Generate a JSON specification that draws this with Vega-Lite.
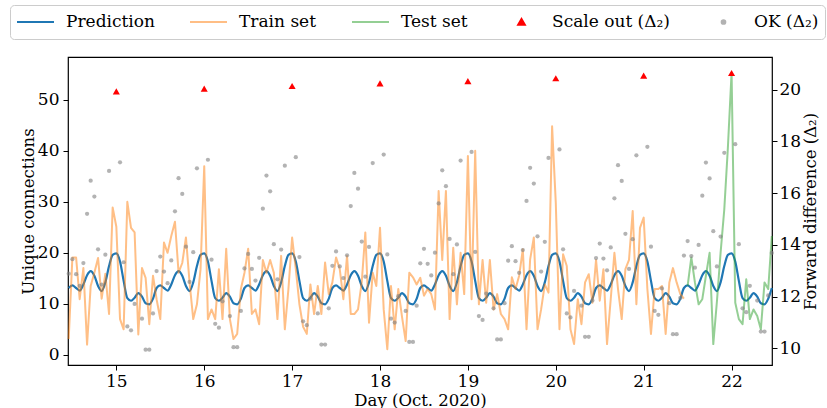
{
  "$schema": "https://vega.github.io/schema/vega-lite/v6.json",
  "width": 704,
  "height": 308,
  "autosize": {"type": "none"},
  "padding": {"left": 68, "top": 57, "right": 55, "bottom": 43},
  "background": "white",
  "config": {
    "font": "DejaVu Serif",
    "view": {"stroke": "#000000", "strokeWidth": 1.2},
    "axis": {
      "labelFont": "DejaVu Serif", "titleFont": "DejaVu Serif",
      "labelFontSize": 17, "titleFontSize": 16.5, "titleFontWeight": "normal",
      "labelColor": "#000000", "titleColor": "#000000", "tickColor": "#000000",
      "domain": false, "grid": false, "tickSize": 5, "labelPadding": 4, "titlePadding": 4
    }
  },
  "data": {"values": [
    {"t":14.458,"p":13.1,"tr":3.1,"ok":12.89},
    {"t":14.5,"p":13.6,"tr":19.1,"ok":13.45},
    {"t":14.542,"p":13.1,"tr":19.1,"ok":12.87},
    {"t":14.583,"p":12.6,"tr":10.9,"ok":12.42},
    {"t":14.625,"p":13.8,"tr":17.0,"ok":13.30},
    {"t":14.667,"p":15.6,"tr":2.0,"ok":15.20},
    {"t":14.708,"p":16.4,"tr":13.5,"ok":16.48},
    {"t":14.75,"p":15.5,"tr":16.1,"ok":15.87},
    {"t":14.792,"p":13.5,"tr":19.0,"ok":13.83},
    {"t":14.833,"p":12.5,"tr":11.0,"ok":12.47},
    {"t":14.875,"p":14.2,"tr":15.9,"ok":13.62},
    {"t":14.917,"p":17.4,"tr":8.0,"ok":16.86},
    {"t":14.958,"p":19.6,"tr":28.9},
    {"t":15.0,"p":19.9,"tr":25.1,"so":19.93},
    {"t":15.042,"p":18.3,"tr":7.0,"ok":17.19},
    {"t":15.083,"p":14.5,"tr":5.0,"ok":13.33},
    {"t":15.125,"p":11.1,"tr":30.0,"ok":10.85},
    {"t":15.167,"p":10.6,"tr":24.9,"ok":10.70},
    {"t":15.208,"p":11.2,"tr":24.0,"ok":11.72},
    {"t":15.25,"p":12.1,"tr":4.0},
    {"t":15.292,"p":11.4,"tr":17.0,"ok":11.15},
    {"t":15.333,"p":10.1,"tr":15.1,"ok":9.95},
    {"t":15.375,"p":9.9,"tr":6.0,"ok":9.95},
    {"t":15.417,"p":11.0,"tr":15.5,"ok":11.35},
    {"t":15.458,"p":13.1,"tr":10.9,"ok":12.99},
    {"t":15.5,"p":13.6,"tr":7.0,"ok":13.55},
    {"t":15.542,"p":13.1,"tr":22.0,"ok":12.97},
    {"t":15.583,"p":12.6,"tr":20.0,"ok":12.52},
    {"t":15.625,"p":13.8,"tr":23.3,"ok":13.40},
    {"t":15.667,"p":15.6,"tr":26.1,"ok":15.30},
    {"t":15.708,"p":16.4,"tr":16.1,"ok":16.58},
    {"t":15.75,"p":15.5,"tr":18.0,"ok":15.97},
    {"t":15.792,"p":13.5,"tr":23.0,"ok":13.93},
    {"t":15.833,"p":12.5,"tr":14.2,"ok":12.57},
    {"t":15.875,"p":14.2,"tr":7.0,"ok":13.72},
    {"t":15.917,"p":17.4,"tr":9.9,"ok":16.96},
    {"t":15.958,"p":19.6,"tr":16.8},
    {"t":16.0,"p":19.9,"tr":37.0,"so":20.04},
    {"t":16.042,"p":18.3,"tr":7.0,"ok":17.29},
    {"t":16.083,"p":14.5,"tr":8.9,"ok":13.43},
    {"t":16.125,"p":11.1,"tr":7.0,"ok":10.95},
    {"t":16.167,"p":10.6,"tr":16.8,"ok":10.80},
    {"t":16.208,"p":11.2,"tr":7.0,"ok":11.82},
    {"t":16.25,"p":12.1,"tr":20.8},
    {"t":16.292,"p":11.4,"tr":7.0,"ok":11.25},
    {"t":16.333,"p":10.1,"tr":3.1,"ok":10.05},
    {"t":16.375,"p":9.9,"tr":4.1,"ok":10.05},
    {"t":16.417,"p":11.0,"tr":12.9,"ok":11.45},
    {"t":16.458,"p":13.1,"tr":16.1,"ok":13.09},
    {"t":16.5,"p":13.6,"tr":20.8,"ok":13.65},
    {"t":16.542,"p":13.1,"tr":8.0,"ok":13.07},
    {"t":16.583,"p":12.6,"tr":8.9,"ok":12.62},
    {"t":16.625,"p":13.8,"tr":6.0,"ok":13.50},
    {"t":16.667,"p":15.6,"tr":18.6,"ok":15.40},
    {"t":16.708,"p":16.4,"tr":16.1,"ok":16.68},
    {"t":16.75,"p":15.5,"tr":18.6,"ok":16.07},
    {"t":16.792,"p":13.5,"tr":16.1,"ok":14.03},
    {"t":16.833,"p":12.5,"tr":7.0,"ok":12.67},
    {"t":16.875,"p":14.2,"tr":19.4,"ok":13.82},
    {"t":16.917,"p":17.4,"tr":5.0,"ok":17.06},
    {"t":16.958,"p":19.6,"tr":12.9},
    {"t":17.0,"p":19.9,"tr":23.0,"so":20.14},
    {"t":17.042,"p":18.3,"tr":16.8,"ok":17.39},
    {"t":17.083,"p":14.5,"tr":9.9,"ok":13.53},
    {"t":17.125,"p":11.1,"tr":5.5,"ok":11.05},
    {"t":17.167,"p":10.6,"tr":4.1,"ok":10.90},
    {"t":17.208,"p":11.2,"tr":13.8,"ok":11.92},
    {"t":17.25,"p":12.1,"tr":8.0},
    {"t":17.292,"p":11.4,"tr":13.5,"ok":11.35},
    {"t":17.333,"p":10.1,"tr":8.0,"ok":10.15},
    {"t":17.375,"p":9.9,"tr":18.1,"ok":10.15},
    {"t":17.417,"p":11.0,"tr":11.9,"ok":11.55},
    {"t":17.458,"p":13.1,"tr":14.2,"ok":13.19},
    {"t":17.5,"p":13.6,"tr":19.1,"ok":13.75},
    {"t":17.542,"p":13.1,"tr":16.8,"ok":13.17},
    {"t":17.583,"p":12.6,"tr":10.9,"ok":12.72},
    {"t":17.625,"p":13.8,"tr":19.4,"ok":13.60},
    {"t":17.667,"p":15.6,"tr":8.0,"ok":15.50},
    {"t":17.708,"p":16.4,"tr":8.0,"ok":16.78},
    {"t":17.75,"p":15.5,"tr":8.9,"ok":16.17},
    {"t":17.792,"p":13.5,"tr":14.2,"ok":14.13},
    {"t":17.833,"p":12.5,"tr":24.0,"ok":12.77},
    {"t":17.875,"p":14.2,"tr":6.3,"ok":13.92},
    {"t":17.917,"p":17.4,"tr":16.1,"ok":17.16},
    {"t":17.958,"p":19.6,"tr":13.5},
    {"t":18.0,"p":19.9,"tr":24.9,"so":20.24},
    {"t":18.042,"p":18.3,"tr":8.9,"ok":17.49},
    {"t":18.083,"p":14.5,"tr":1.1,"ok":13.63},
    {"t":18.125,"p":11.1,"tr":13.5,"ok":11.15},
    {"t":18.167,"p":10.6,"tr":5.0,"ok":11.00},
    {"t":18.208,"p":11.2,"tr":12.9,"ok":12.02},
    {"t":18.25,"p":12.1,"tr":7.5},
    {"t":18.292,"p":11.4,"tr":2.7,"ok":11.45},
    {"t":18.333,"p":10.1,"tr":16.1,"ok":10.25},
    {"t":18.375,"p":9.9,"tr":15.2,"ok":10.25},
    {"t":18.417,"p":11.0,"tr":13.8,"ok":11.65},
    {"t":18.458,"p":13.1,"tr":15.1,"ok":13.29},
    {"t":18.5,"p":13.6,"tr":11.6,"ok":13.85},
    {"t":18.542,"p":13.1,"tr":12.9,"ok":13.27},
    {"t":18.583,"p":12.6,"tr":11.9,"ok":12.82},
    {"t":18.625,"p":13.8,"tr":8.9,"ok":13.70},
    {"t":18.667,"p":15.6,"tr":32.1,"ok":15.60},
    {"t":18.708,"p":16.4,"tr":18.6,"ok":16.88},
    {"t":18.75,"p":15.5,"tr":32.1,"ok":16.27},
    {"t":18.792,"p":13.5,"tr":7.0,"ok":14.23},
    {"t":18.833,"p":12.5,"tr":21.0,"ok":12.87},
    {"t":18.875,"p":14.2,"tr":9.9,"ok":14.02},
    {"t":18.917,"p":17.4,"tr":20.0,"ok":17.26},
    {"t":18.958,"p":19.6,"tr":11.9},
    {"t":19.0,"p":19.9,"tr":39.0,"so":20.33},
    {"t":19.042,"p":18.3,"tr":10.9,"ok":17.59},
    {"t":19.083,"p":14.5,"tr":40.0,"ok":13.73},
    {"t":19.125,"p":11.1,"tr":9.9,"ok":11.25},
    {"t":19.167,"p":10.6,"tr":18.6,"ok":11.10},
    {"t":19.208,"p":11.2,"tr":10.2,"ok":12.12},
    {"t":19.25,"p":12.1,"tr":18.6},
    {"t":19.292,"p":11.4,"tr":8.9,"ok":11.55},
    {"t":19.333,"p":10.1,"tr":11.9,"ok":10.35},
    {"t":19.375,"p":9.9,"tr":8.0,"ok":10.35},
    {"t":19.417,"p":11.0,"tr":7.0,"ok":11.75},
    {"t":19.458,"p":13.1,"tr":5.0,"ok":13.39},
    {"t":19.5,"p":13.6,"tr":15.2,"ok":13.95},
    {"t":19.542,"p":13.1,"tr":12.9,"ok":13.37},
    {"t":19.583,"p":12.6,"tr":15.5,"ok":12.92},
    {"t":19.625,"p":13.8,"tr":20.7,"ok":13.80},
    {"t":19.667,"p":15.6,"tr":5.0,"ok":15.70},
    {"t":19.708,"p":16.4,"tr":18.7,"ok":16.98},
    {"t":19.75,"p":15.5,"tr":23.0,"ok":16.37},
    {"t":19.792,"p":13.5,"tr":5.0,"ok":14.33},
    {"t":19.833,"p":12.5,"tr":8.9,"ok":12.97},
    {"t":19.875,"p":14.2,"tr":13.8,"ok":14.12},
    {"t":19.917,"p":17.4,"tr":12.2,"ok":17.36},
    {"t":19.958,"p":19.6,"tr":44.8},
    {"t":20.0,"p":19.9,"tr":29.8,"so":20.44},
    {"t":20.042,"p":18.3,"tr":5.0,"ok":17.69},
    {"t":20.083,"p":14.5,"tr":19.7,"ok":13.83},
    {"t":20.125,"p":11.1,"tr":17.4,"ok":11.35},
    {"t":20.167,"p":10.6,"tr":5.0,"ok":11.20},
    {"t":20.208,"p":11.2,"tr":2.1,"ok":12.22},
    {"t":20.25,"p":12.1,"tr":10.9},
    {"t":20.292,"p":11.4,"tr":6.0,"ok":11.65},
    {"t":20.333,"p":10.1,"tr":14.2,"ok":10.45},
    {"t":20.375,"p":9.9,"tr":15.8,"ok":10.45},
    {"t":20.417,"p":11.0,"tr":10.2,"ok":11.85},
    {"t":20.458,"p":13.1,"tr":18.6,"ok":13.49},
    {"t":20.5,"p":13.6,"tr":10.6,"ok":14.05},
    {"t":20.542,"p":13.1,"tr":16.8,"ok":13.47},
    {"t":20.583,"p":12.6,"tr":2.1,"ok":13.02},
    {"t":20.625,"p":13.8,"tr":10.9,"ok":13.90},
    {"t":20.667,"p":15.6,"tr":20.0,"ok":15.80},
    {"t":20.708,"p":16.4,"tr":12.9,"ok":17.08},
    {"t":20.75,"p":15.5,"tr":7.0,"ok":16.47},
    {"t":20.792,"p":13.5,"tr":16.8,"ok":14.43},
    {"t":20.833,"p":12.5,"tr":18.6,"ok":13.07},
    {"t":20.875,"p":14.2,"tr":28.2,"ok":14.22},
    {"t":20.917,"p":17.4,"tr":9.9,"ok":17.46},
    {"t":20.958,"p":19.6,"tr":24.9},
    {"t":21.0,"p":19.9,"tr":26.9,"so":20.54},
    {"t":21.042,"p":18.3,"tr":12.9,"ok":17.79},
    {"t":21.083,"p":14.5,"tr":4.1,"ok":13.93},
    {"t":21.125,"p":11.1,"tr":12.9,"ok":11.45},
    {"t":21.167,"p":10.6,"tr":12.9,"ok":11.30},
    {"t":21.208,"p":11.2,"tr":13.5,"ok":12.32},
    {"t":21.25,"p":12.1,"tr":4.1},
    {"t":21.292,"p":11.4,"tr":14.2,"ok":11.75},
    {"t":21.333,"p":10.1,"tr":17.0,"ok":10.55},
    {"t":21.375,"p":9.9,"tr":14.2,"ok":10.55},
    {"t":21.417,"p":11.0,"tr":11.9,"ok":11.95},
    {"t":21.458,"p":13.1,"tr":11.0,"ok":13.59},
    {"t":21.5,"p":13.6,"te":13.5,"ok":14.15},
    {"t":21.542,"p":13.1,"te":19.1,"ok":13.57},
    {"t":21.583,"p":12.6,"te":14.2,"ok":13.12},
    {"t":21.625,"p":13.8,"te":9.9,"ok":14.00},
    {"t":21.667,"p":15.6,"te":10.9,"ok":15.90},
    {"t":21.708,"p":16.4,"te":15.5,"ok":17.18},
    {"t":21.75,"p":15.5,"te":20.0,"ok":16.57},
    {"t":21.792,"p":13.5,"te":2.1,"ok":14.53},
    {"t":21.833,"p":12.5,"te":10.4,"ok":13.17},
    {"t":21.875,"p":14.2,"te":20.0,"ok":14.32},
    {"t":21.917,"p":17.4,"te":28.5,"ok":17.56},
    {"t":21.958,"p":19.6,"te":40.6},
    {"t":22.0,"p":19.9,"te":55.3,"so":20.64},
    {"t":22.042,"p":18.3,"te":10.2,"ok":17.89},
    {"t":22.083,"p":14.5,"te":7.0,"ok":14.03},
    {"t":22.125,"p":11.1,"te":6.0,"ok":11.55},
    {"t":22.167,"p":10.6,"te":14.8,"ok":11.40},
    {"t":22.208,"p":11.2,"te":7.0,"ok":12.42},
    {"t":22.25,"p":12.1,"te":8.9},
    {"t":22.292,"p":11.4,"te":7.6,"ok":11.85},
    {"t":22.333,"p":10.1,"te":5.0,"ok":10.65},
    {"t":22.375,"p":9.9,"te":14.2,"ok":10.65},
    {"t":22.417,"p":11.0,"te":12.9,"ok":12.05},
    {"t":22.458,"p":13.1,"te":23.3,"ok":13.69}
  ]},
  "encoding": {
    "x": {
      "field": "t", "type": "quantitative",
      "scale": {"domain": [14.45, 22.46], "nice": false, "zero": false},
      "axis": {"values": [15, 16, 17, 18, 19, 20, 21, 22], "format": "d", "title": "Day (Oct. 2020)", "labelPadding": 3, "titlePadding": 3}
    }
  },
  "layer": [
    {
      "layer": [
        {
          "mark": {"type": "line", "interpolate": "monotone", "strokeWidth": 2.2, "color": "#1f77b4"},
          "encoding": {
            "y": {"field": "p", "type": "quantitative", "scale": {"domain": [-2.0, 58.4], "nice": false, "zero": false}, "axis": {"orient": "left", "values": [0, 10, 20, 30, 40, 50], "title": "Unique connections", "titlePadding": 1}},
            "color": {
              "datum": "Prediction", "type": "nominal",
              "scale": {"domain": ["Prediction", "Train set", "Test set", "Scale out (Δ₂)", "OK (Δ₂)"], "range": ["#1f77b4", "#ff7f0e", "#2ca02c", "#ff0000", "#808080"]},
              "legend": {
                "orient": "none", "legendX": -58, "legendY": -52, "direction": "horizontal", "columns": 5,
                "title": null,
                "labelFont": "DejaVu Serif", "labelFontSize": 17, "labelColor": "#000000", "labelLimit": 300,
                "symbolSize": 1369, "symbolStrokeWidth": 2, "symbolType": "stroke",
                "labelOffset": 11, "columnPadding": 34, "clipHeight": 22,
                "padding": 6, "strokeColor": "#cccccc", "fillColor": "white", "cornerRadius": 4,
                "encode": {
                  "symbols": {"update": {
                    "shape": {"signal": "datum.value==='Scale out (Δ₂)'?'M0,-0.16L0.18,0.15L-0.18,0.15Z':datum.value==='OK (Δ₂)'?'M-0.1,0A0.1,0.1 0 1,0 0.1,0A0.1,0.1 0 1,0 -0.1,0Z':'stroke'"},
                    "fill": {"signal": "datum.value==='Scale out (Δ₂)'?'#ff0000':datum.value==='OK (Δ₂)'?'#808080':'transparent'"},
                    "stroke": {"signal": "datum.value==='Prediction'?'#1f77b4':datum.value==='Train set'?'#ff7f0e':datum.value==='Test set'?'#2ca02c':'transparent'"},
                    "strokeWidth": {"value": 2},
                    "opacity": {"signal": "datum.value==='Train set'||datum.value==='Test set'?0.5:datum.value==='OK (Δ₂)'?0.6:1"}
                  }}
                }
              }
            }
          }
        },
        {
          "transform": [{"filter": "isValid(datum.tr)"}],
          "mark": {"type": "line", "strokeWidth": 2, "opacity": 0.5, "color": "#ff7f0e", "strokeJoin": "round"},
          "encoding": {
            "y": {"field": "tr", "type": "quantitative", "scale": {"domain": [-2.0, 58.4], "nice": false, "zero": false}, "axis": {"orient": "left", "values": [0, 10, 20, 30, 40, 50], "title": "Unique connections", "titlePadding": 1}},
            "color": {"datum": "Train set", "type": "nominal"}
          }
        },
        {
          "transform": [{"filter": "isValid(datum.te)"}],
          "mark": {"type": "line", "strokeWidth": 2, "opacity": 0.5, "color": "#2ca02c", "strokeJoin": "round"},
          "encoding": {
            "y": {"field": "te", "type": "quantitative", "scale": {"domain": [-2.0, 58.4], "nice": false, "zero": false}, "axis": {"orient": "left", "values": [0, 10, 20, 30, 40, 50], "title": "Unique connections", "titlePadding": 1}},
            "color": {"datum": "Test set", "type": "nominal"}
          }
        }
      ]
    },
    {
      "layer": [
        {
          "transform": [{"filter": "isValid(datum.ok)"}],
          "mark": {"type": "point", "filled": true, "size": 18, "opacity": 0.6, "color": "#808080"},
          "encoding": {
            "y": {"field": "ok", "type": "quantitative", "scale": {"domain": [9.36, 21.26], "nice": false, "zero": false}, "axis": {"orient": "right", "values": [10, 12, 14, 16, 18, 20], "title": "Forward difference (Δ₂)", "titleAngle": 270, "titleBaseline": "top", "labelPadding": 2, "titlePadding": 2}},
            "color": {"datum": "OK (Δ₂)", "type": "nominal"}
          }
        },
        {
          "transform": [{"filter": "isValid(datum.so)"}],
          "mark": {"type": "point", "filled": true, "shape": "triangle-up", "size": 50, "opacity": 1, "color": "#ff0000"},
          "encoding": {
            "y": {"field": "so", "type": "quantitative", "scale": {"domain": [9.36, 21.26], "nice": false, "zero": false}, "axis": {"orient": "right", "values": [10, 12, 14, 16, 18, 20], "title": "Forward difference (Δ₂)", "titleAngle": 270, "titleBaseline": "top", "labelPadding": 2, "titlePadding": 2}},
            "color": {"datum": "Scale out (Δ₂)", "type": "nominal"}
          }
        }
      ]
    }
  ],
  "resolve": {"scale": {"y": "independent"}}
}
